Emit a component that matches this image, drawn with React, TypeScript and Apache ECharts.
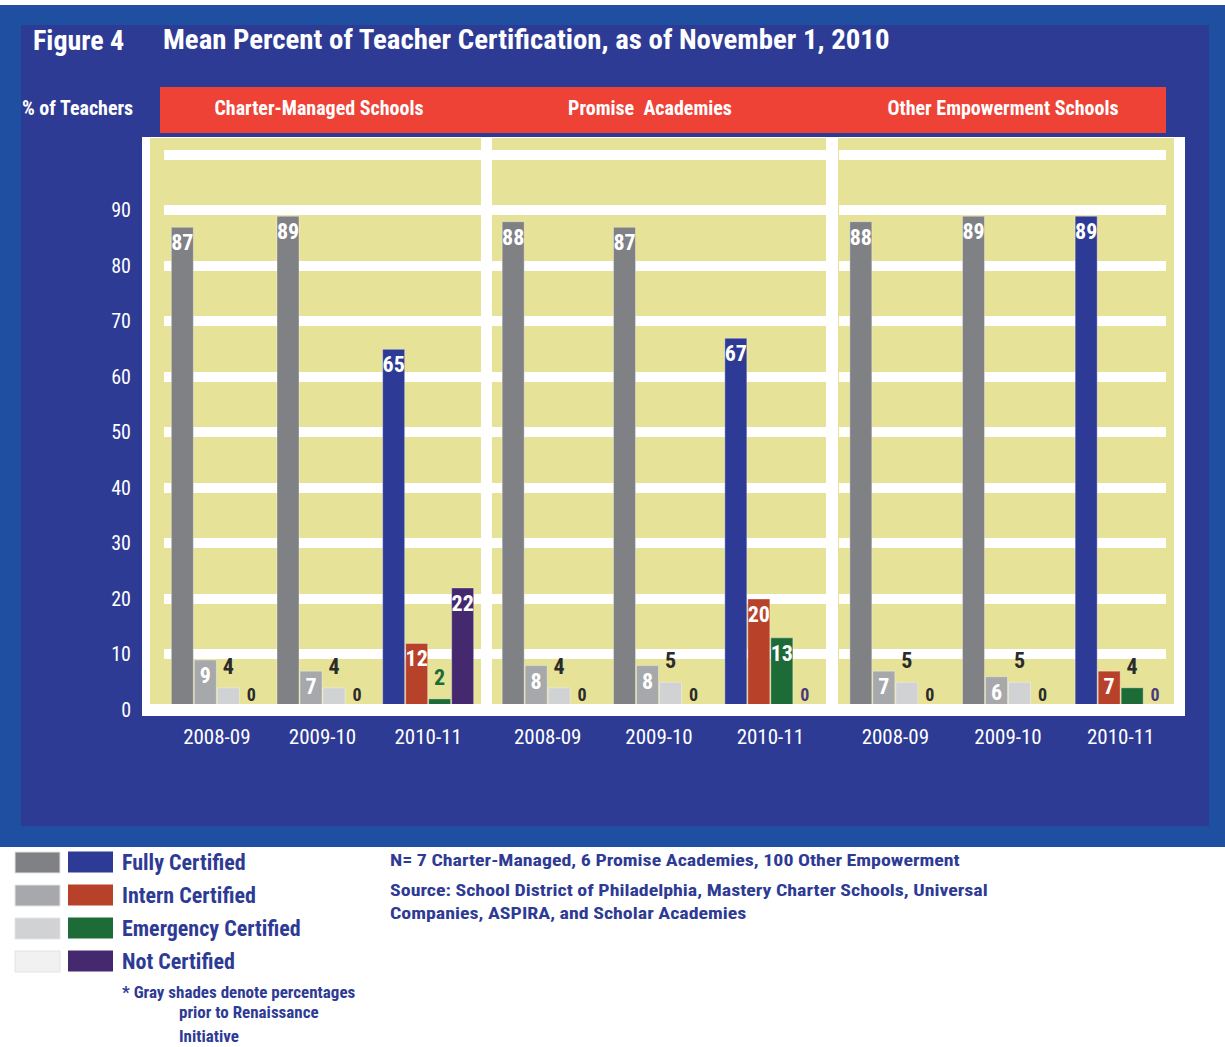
import React, { useEffect, useRef } from "react";
import * as echarts from "echarts";

const NARROW = '"Roboto Condensed", "Open Sans Condensed", "DejaVu Sans Condensed", sans-serif';

const panelTitles = ["Charter-Managed Schools", "Promise  Academies", "Other Empowerment Schools"];
const years = ["2008-09", "2009-10", "2010-11"];
const seriesNames = ["Fully Certified", "Intern Certified", "Emergency Certified", "Not Certified"];

// [panel][year]
const fullyCertified = [[87, 89, 65], [88, 87, 67], [88, 89, 89]];
const internCertified = [[9, 7, 12], [8, 8, 20], [7, 6, 7]];
const emergencyCertified = [[4, 4, 2], [4, 5, 13], [5, 5, 4]];
const notCertified = [[0, 0, 22], [0, 0, 0], [0, 0, 0]];

const colorShades = ["#2e3b96", "#b8412a", "#1d6b37", "#44296f"];
const grayShades = ["#808185", "#a7a8ab", "#d1d2d4", "#f1f1f1"];

const YELLOW = "#e6e297";
const DARK_BLUE = "#2e3b95";
const LIGHT_BLUE = "#1f4fa0";
const RED = "#ef4237";

// plotting ranges of the three panels (category scales)
const gridLefts = [164, 492, 839];
const gridRights = [481, 826, 1177];
// visible yellow panels
const panelLefts = [150, 492, 838];
const panelRights = [481, 826, 1174];
const headerCenters = [319, 650, 1003];

function buildOption() {
  const values = [fullyCertified, internCertified, emergencyCertified, notCertified];
  const grid = gridLefts.map((l, i) => ({
    left: l,
    top: 138,
    width: gridRights[i] - l,
    height: 571.5,
    show: false,
  }));
  const xAxis = grid.map((_, i) => ({
    type: "category",
    gridIndex: i,
    data: years,
    z: 5,
    axisLine: { show: true, lineStyle: { color: "#ffffff", width: 11 } },
    axisTick: { show: false },
    axisLabel: { color: "#ffffff", fontSize: 21, fontFamily: NARROW, margin: 17 },
  }));
  const yAxis = grid.map((_, i) => ({
    type: "value",
    gridIndex: i,
    min: 0,
    max: 103,
    interval: 10,
    axisLine: { show: false },
    axisTick: { show: false },
    axisLabel: {
      show: i === 0,
      color: "#ffffff",
      fontSize: 20,
      fontFamily: NARROW,
      margin: 33,
      formatter: (v: number) => (v <= 90 ? String(v) : ""),
    },
    splitLine: { show: true, showMaxLine: false, lineStyle: { color: "#ffffff", width: 10 } },
  }));
  const series: any[] = [];
  for (let p = 0; p < 3; p++) {
    for (let s = 0; s < 4; s++) {
      series.push({
        type: "bar",
        name: seriesNames[s],
        xAxisIndex: p,
        yAxisIndex: p,
        barWidth: 23,
        barGap: "0%",
        itemStyle: { color: colorShades[s] },
        emphasis: { disabled: true },
        data: values[s][p].map((v, y) => {
          const colored = y === 2;
          const color = colored ? colorShades[s] : grayShades[s];
          const inside = v >= 6;
          let labelColor = "#2b2b2b";
          if (v > 0 && v <= 2) labelColor = color;
          if (v === 0 && colored) labelColor = "#4b3b78";
          return {
            value: v,
            itemStyle: { color, borderColor: "rgba(255,255,255,0.35)", borderWidth: 1 },
            label: inside
              ? { show: true, position: "insideTop", distance: 5, color: "#ffffff", fontSize: 22, fontWeight: "bold", fontFamily: NARROW }
              : { show: true, position: "top", distance: v === 0 ? 6 : 10, color: labelColor, fontSize: v === 0 ? 18 : 22, fontWeight: "bold", fontFamily: NARROW },
          };
        }),
      });
    }
  }

  const txt = (text: string, x: number, y: number, size: number, fill: string, align = "left", scaleX = 1) => ({
    type: "text",
    x,
    y,
    scaleX,
    z: 10,
    style: { text, fill, fontSize: size, fontWeight: "bold", fontFamily: NARROW, align, verticalAlign: "middle" },
  });

  const graphic: any[] = [
    { type: "rect", z: -5, shape: { x: 0, y: 5, width: 1225, height: 842 }, style: { fill: LIGHT_BLUE } },
    { type: "rect", z: -4, shape: { x: 21, y: 25, width: 1188, height: 801 }, style: { fill: DARK_BLUE } },
    { type: "rect", z: -3, shape: { x: 142, y: 137, width: 1043, height: 579 }, style: { fill: "#ffffff" } },
    ...panelLefts.map((l, i) => ({
      type: "rect",
      z: -2,
      shape: { x: l, y: 138, width: panelRights[i] - l, height: 566 },
      style: { fill: YELLOW },
    })),
    // gridline-free yellow margins at the outer panel edges
    { type: "rect", z: 1, shape: { x: 150, y: 138, width: 10, height: 566 }, style: { fill: YELLOW } },
    { type: "rect", z: 1, shape: { x: 1166, y: 138, width: 8, height: 566 }, style: { fill: YELLOW } },
    { type: "rect", z: 1, shape: { x: 1174, y: 138, width: 11, height: 578 }, style: { fill: "#ffffff" } },
    { type: "rect", z: -2, shape: { x: 160, y: 87, width: 1006, height: 46 }, style: { fill: RED } },
    txt("Figure 4", 33, 40, 28, "#ffffff"),
    txt("Mean Percent of Teacher Certification, as of November 1, 2010", 163, 40, 28, "#ffffff", "left", 1.03),
    txt("% of Teachers", 22, 108, 20, "#ffffff"),
    ...panelTitles.map((t, i) => txt(t, headerCenters[i], 108, 20, "#ffffff", "center")),
    ...grayShades.map((c, i) => ({
      type: "rect",
      z: 1,
      shape: { x: 15, y: 852 + 33 * i, width: 45, height: 21 },
      style: { fill: c, stroke: "#e4e4e4", lineWidth: 1 },
    })),
    txt("* Gray shades denote percentages", 122, 992, 17, DARK_BLUE),
    txt("prior to Renaissance", 179, 1012, 17, DARK_BLUE),
    txt("Initiative", 179, 1036, 17, DARK_BLUE),
    txt("N= 7 Charter-Managed, 6 Promise Academies, 100 Other Empowerment", 390, 860, 17, DARK_BLUE, "left", 1.17),
    txt("Source: School District of Philadelphia, Mastery Charter Schools, Universal", 390, 890, 17, DARK_BLUE, "left", 1.17),
    txt("Companies, ASPIRA, and Scholar Academies", 390, 913, 17, DARK_BLUE, "left", 1.17),
  ];

  return {
    animation: false,
    backgroundColor: "#ffffff",
    grid,
    xAxis,
    yAxis,
    series,
    legend: {
      data: seriesNames,
      orient: "vertical",
      left: 68,
      top: 851,
      padding: 0,
      itemWidth: 45,
      itemHeight: 21,
      itemGap: 11,
      icon: "rect",
      selectedMode: false,
      textStyle: { color: DARK_BLUE, fontSize: 22, lineHeight: 22, fontWeight: "bold", fontFamily: NARROW, padding: [0, 0, 0, 4] },
    },
    graphic: { elements: graphic },
  };
}

export default function App() {
  const ref = useRef<HTMLDivElement>(null);
  useEffect(() => {
    document.body.style.margin = "0";
    const chart = echarts.init(ref.current!, undefined, { renderer: "svg" });
    chart.setOption(buildOption() as any);
    return () => chart.dispose();
  }, []);
  return <div ref={ref} style={{ width: 1225, height: 1047 }} />;
}
